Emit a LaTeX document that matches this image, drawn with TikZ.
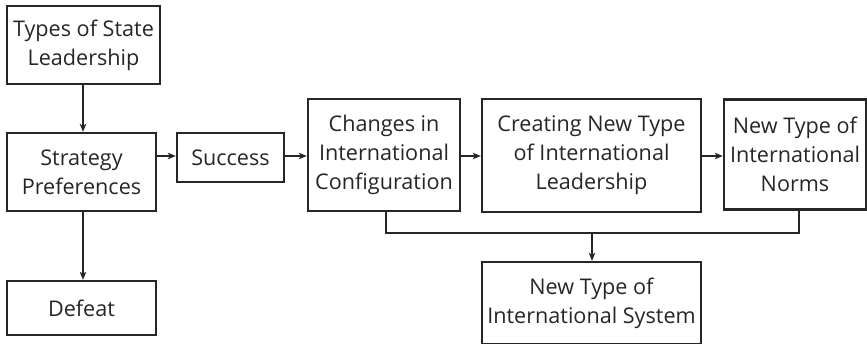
\documentclass[tikz,border=0pt]{standalone}
\usepackage{fontspec}
\setmainfont{Open Sans}
\usetikzlibrary{arrows.meta}
\begin{document}
\begin{tikzpicture}[x=1pt,y=-1pt,
  box/.style={draw=black!85, line width=2.4pt, rectangle, align=center, inner sep=0pt,
    font=\fontsize{21.6}{29}\selectfont, text=black!85},
  arr/.style={draw=black!85, line width=1.1pt, -{Stealth[length=8pt,width=6.5pt,inset=2pt]}},
  ln/.style={draw=black!85, line width=1.1pt}]
\useasboundingbox (0,0) rectangle (867,343);
\node[box, minimum width=153pt, minimum height=78pt] (tsl) at (83.5,45) {Types of State\\Leadership};
\node[box, minimum width=149pt, minimum height=78pt] (sp) at (81.5,172) {Strategy\\Preferences};
\node[box, minimum width=149pt, minimum height=54pt] (def) at (81.5,308) {Defeat};
\node[box, minimum width=107pt, minimum height=49pt] (suc) at (230.5,157.5) {Success};
\node[box, minimum width=152pt, minimum height=112pt] (chg) at (384,155) {Changes in\\International\\Configuration};
\node[box, minimum width=219pt, minimum height=113pt] (cre) at (591.5,155.5) {Creating New Type\\of International\\Leadership};
\node[box, minimum width=142pt, minimum height=110pt] (nor) at (795,154.5) {New Type of\\International\\Norms};
\node[box, minimum width=219pt, minimum height=82pt] (sys) at (591.5,303) {New Type of\\International System};
\coordinate (jl) at (386,233);
\coordinate (jr) at (799,233);
\coordinate (jm) at (592,233);
\draw[arr] (tsl.south -| 83,0) -- (sp.north -| 83,0);
\draw[arr] (sp.south -| 83,0) -- (def.north -| 83,0);
\draw[arr] (sp.east |- 0,156) -- (suc.west |- 0,156);
\draw[arr] (suc.east |- 0,156) -- (chg.west |- 0,156);
\draw[arr] (chg.east |- 0,156) -- (cre.west |- 0,156);
\draw[arr] (cre.east |- 0,156) -- (nor.west |- 0,156);
\draw[ln] (chg.south -| jl) -- (jl) -- (jr) -- (nor.south -| jr);
\draw[arr] (jm) -- (sys.north -| jm);
\end{tikzpicture}
\end{document}
